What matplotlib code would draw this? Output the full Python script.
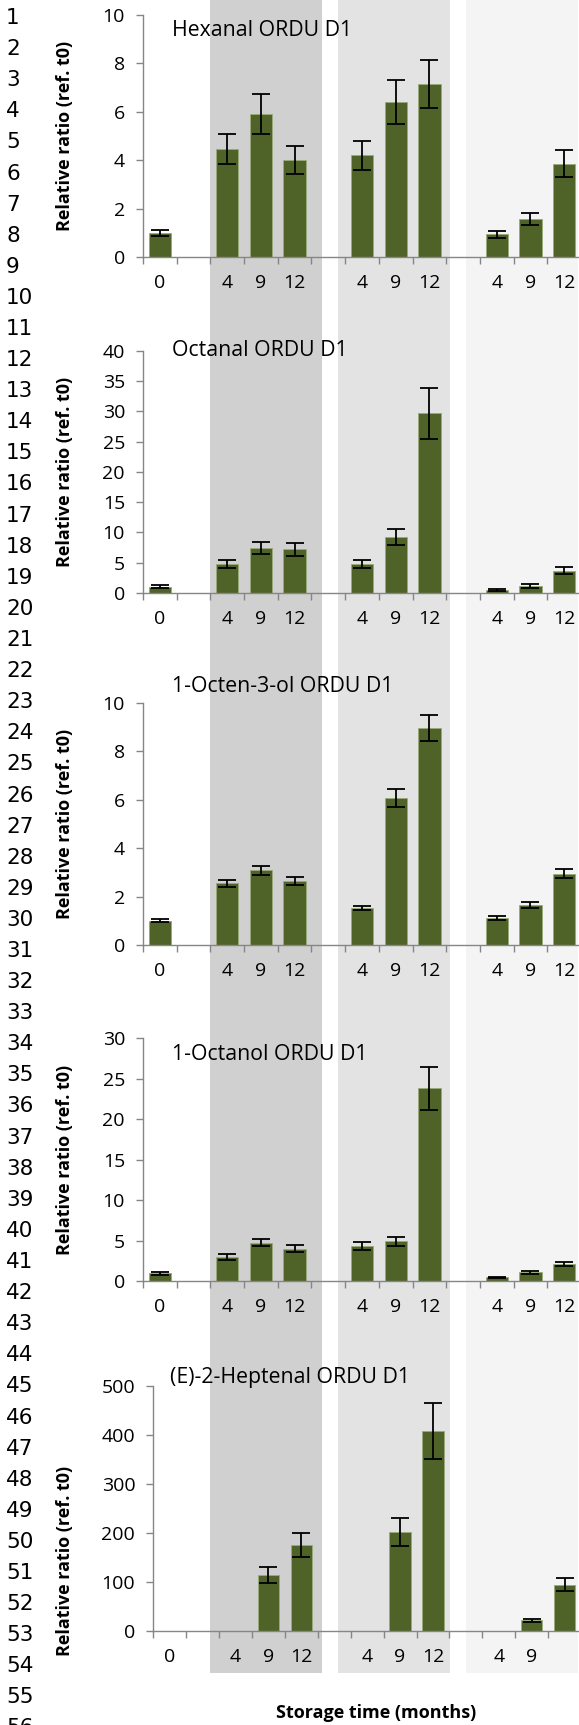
import numpy as np
import matplotlib.pyplot as plt
from matplotlib.patches import Rectangle

nan = np.nan

## storage time slots: t0, gap, then three storage conditions of 4/9/12 months
months = ['0', '', '4', '9', '12', '', '4', '9', '12', '', '4', '9', '12']
months_last = ['0', '', '4', '9', '12', '', '4', '9', '12', '', '4', '9', '']

## relative ratios (ref. t0) and their error bars
hexanal = [1.0, nan, 4.46, 5.92, 4.02, nan, 4.20, 6.40, 7.15, nan, 0.94, 1.57, 3.86]
hexanal_err = [0.12, 0, 0.63, 0.83, 0.57, 0, 0.60, 0.90, 1.0, 0, 0.14, 0.24, 0.55]

octanal = [1.05, nan, 4.8, 7.5, 7.2, nan, 4.75, 9.2, 29.7, nan, 0.45, 1.15, 3.7]
octanal_err = [0.2, 0, 0.65, 1.0, 1.05, 0, 0.65, 1.3, 4.2, 0, 0.15, 0.3, 0.6]

octenol = [1.0, nan, 2.55, 3.08, 2.64, nan, 1.53, 6.05, 8.96, nan, 1.13, 1.64, 2.94]
octenol_err = [0.06, 0, 0.15, 0.18, 0.16, 0, 0.09, 0.37, 0.55, 0, 0.08, 0.12, 0.18]

octanol = [0.95, nan, 2.93, 4.74, 3.99, nan, 4.29, 4.9, 23.8, nan, 0.45, 1.07, 2.1]
octanol_err = [0.2, 0, 0.35, 0.45, 0.42, 0, 0.5, 0.53, 2.65, 0, 0.1, 0.15, 0.27]

heptenal = [1, nan, 1, 114, 175, nan, 1, 202, 408, nan, 1, 21.7, 94.4]
heptenal_err = [0, 0, 0, 16, 25, 0, 0, 28.5, 57, 0, 0, 3.7, 13.5]

W, H = 579, 1725
fig = plt.figure(figsize=(W / 100, H / 100), dpi=100)

FONT = 'Open Sans'
GREY = '#868686'
BAR = '#4F6228'

# background layer in pixel coords: shaded condition bands + line numbers
bg = fig.add_axes([0, 0, 1, 1], zorder=-1)
bg.set_xlim(0, W)
bg.set_ylim(H, 0)
bg.axis('off')
for x0, x1, c in [(210, 322, '#D0D0D0'), (338, 450, '#E3E3E3'), (466, 578, '#F4F4F4')]:
    bg.add_patch(Rectangle((x0, 0), x1 - x0, 1673, color=c, lw=0))
for n in range(1, 57):
    bg.text(6, 18 + (n - 1) * 31.1, str(n), fontsize=15.5, family='DejaVu Sans',
            ha='left', va='center')


def rect(left, right, top, bottom):
    return [left / W, 1 - bottom / H, (right - left) / W, (bottom - top) / H]


# title, values, errors, y max, y step, axes box (px), title y, ylabel y, bar width, labels
panels = [
    ('Hexanal ORDU D1', hexanal, hexanal_err, 10, 2, (143, 581, 15, 257), 30, 136, 0.66, months),
    ('Octanal ORDU D1', octanal, octanal_err, 40, 5, (143, 581, 350.7, 593), 351, 472, 0.66, months),
    ('1-Octen-3-ol ORDU D1', octenol, octenol_err, 10, 2, (143, 581, 702.7, 945), 686, 824, 0.66, months),
    ('1-Octanol ORDU D1', octanol, octanol_err, 30, 5, (143, 581, 1038.3, 1281), 1055, 1160, 0.66, months),
    ('(E)-2-Heptenal ORDU D1', heptenal, heptenal_err, 500, 100, (153.3, 581, 1385.7, 1631), 1377, 1561, 0.65, months_last),
]

for title, vals, err, ymax, step, box, ty, ly, bw, labels in panels:
    vals = np.array(vals, dtype=float)
    err = np.array(err, dtype=float)
    x = np.arange(len(vals))
    ax = fig.add_axes(rect(*box))
    ax.set_facecolor('none')
    ax.bar(x, vals, width=bw, color=BAR, edgecolor='#9aaa7a', linewidth=0.6, zorder=2)
    m = err > 0
    ax.errorbar(x[m], vals[m], yerr=err[m], fmt='none', ecolor='black',
                elinewidth=1.3, capsize=6.3, capthick=1.3, zorder=3)
    ax.set_xlim(-0.5, len(vals) - 0.5)
    ax.set_ylim(0, ymax)
    ax.set_yticks(np.arange(0, ymax + step / 2, step))
    ax.set_xticks(np.arange(-0.5, len(vals), 1))
    ax.set_xticklabels([])
    ax.set_xticks(x, minor=True)
    ax.set_xticklabels(labels, minor=True)
    ax.tick_params(axis='x', which='major', length=5, width=1, color=GREY, direction='out')
    ax.tick_params(axis='x', which='minor', length=0, pad=12, labelsize=14)
    ax.tick_params(axis='y', length=5, width=1, color=GREY, pad=8, labelsize=14)
    for lab in ax.get_xticklabels(minor=True) + ax.get_yticklabels():
        lab.set_family(FONT)
    for s in ['top', 'right']:
        ax.spines[s].set_visible(False)
    for s in ['left', 'bottom']:
        ax.spines[s].set_color(GREY)
        ax.spines[s].set_linewidth(1)
    tx = 172 if box[0] < 150 else 170
    fig.text(tx / W, 1 - ty / H, title, fontsize=15.3, family=FONT, ha='left', va='center')
    fig.text(65 / W, 1 - ly / H, 'Relative ratio (ref. t0)', rotation=90,
             fontsize=13, family=FONT, weight='bold', ha='center', va='center')

fig.text(376 / W, 1 - 1713 / H, 'Storage time (months)', fontsize=13, family=FONT,
         weight='bold', ha='center', va='center')

fig.savefig('out.png', dpi=100)
